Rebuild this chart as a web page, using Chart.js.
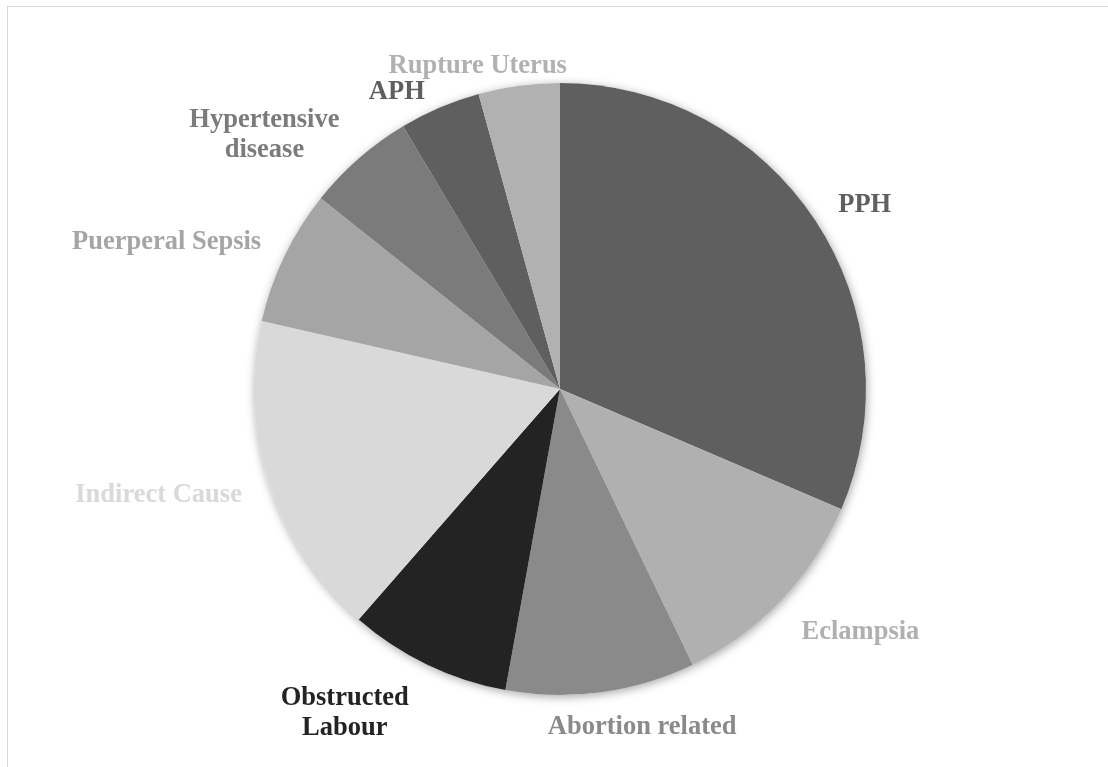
<!DOCTYPE html>
<html>
<head>
<meta charset="utf-8">
<script src="https://cdn.jsdelivr.net/npm/chart.js@4.4.0/dist/chart.umd.min.js"></script>
<style>
  html, body { margin: 0; padding: 0; background: #fff; overflow: hidden; }
  #frame { position: absolute; left: 7px; top: 6px; width: 1300px; height: 1000px;
           border-left: 1px solid #d9d9d9; border-top: 1px solid #d9d9d9; }
  #myChart { position: absolute; left: 0; top: 0; }
</style>
</head>
<body>
<div id="frame"></div>
<canvas id="myChart" width="1108" height="767"></canvas>
<script>
// causes of maternal death
var categories = ['PPH', 'Eclampsia', 'Abortion related', ['Obstructed', 'Labour'],
    'Indirect Cause', 'Puerperal Sepsis', ['Hypertensive', 'disease'], 'APH', 'Rupture Uterus'];
var deaths = [22, 8, 7, 6, 12, 5, 4, 3, 3];
var shades = ['#5f5f5f', '#b0b0b0', '#8a8a8a', '#232323', '#d9d9d9', '#a5a5a5', '#7b7b7b', '#5f5f5f', '#b1b1b1'];

// soft drop shadow under the whole pie
var pieShadow = {
    id: 'pieShadow',
    beforeDatasetsDraw: function(chart) {
        var arc = chart.getDatasetMeta(0).data[0];
        if (!arc) return;
        var ctx = chart.ctx;
        ctx.save();
        ctx.shadowColor = 'rgba(0,0,0,0.35)';
        ctx.shadowBlur = 10;
        ctx.shadowOffsetX = 1;
        ctx.shadowOffsetY = 2;
        ctx.beginPath();
        ctx.arc(arc.x, arc.y, arc.outerRadius, 0, Math.PI * 2);
        ctx.fillStyle = '#ffffff';
        ctx.fill();
        ctx.restore();
    }
};

// distance from (0,0) to the nearest point of a box centred at (x,y)
function boxDist(x, y, w, h) {
    var nx = Math.max(x - w / 2, Math.min(0, x + w / 2));
    var ny = Math.max(y - h / 2, Math.min(0, y + h / 2));
    return Math.sqrt(nx * nx + ny * ny);
}

// category names outside each slice, in the slice colour
var outsideLabels = {
    id: 'outsideLabels',
    afterDatasetsDraw: function(chart, args, opts) {
        var ctx = chart.ctx;
        var size = opts.size, lineH = opts.lineHeight, capH = size * 0.66;
        ctx.save();
        ctx.font = 'bold ' + size + 'px "Liberation Serif", "Times New Roman", serif';
        ctx.textAlign = 'center';
        ctx.textBaseline = 'alphabetic';
        chart.getDatasetMeta(0).data.forEach(function(arc, i) {
            var lines = [].concat(chart.data.labels[i]);
            var w = Math.max.apply(null, lines.map(function(l) { return ctx.measureText(l).width; }));
            var h = capH + (lines.length - 1) * lineH;
            var ang = (arc.startAngle + arc.endAngle) / 2 + opts.turn[i] * Math.PI / 180;
            var ux = Math.cos(ang), uy = Math.sin(ang);
            var want = arc.outerRadius + opts.gap[i];
            // push the label box out along its ray until it clears the pie by the gap
            var lo = 0, hi = want + w + h;
            for (var k = 0; k < 40; k++) {
                var t = (lo + hi) / 2;
                if (boxDist(ux * t, uy * t, w, h) < want) lo = t; else hi = t;
            }
            var cx = arc.x + ux * lo, cy = arc.y + uy * lo;
            ctx.fillStyle = shades[i];
            lines.forEach(function(l, n) {
                ctx.fillText(l, cx, cy - h / 2 + capH + n * lineH);
            });
        });
        ctx.restore();
    }
};

var ctx = document.getElementById("myChart");
var myChart = new Chart(ctx, {
    type: 'pie',
    data: {
        labels: categories,
        datasets: [{
            data: deaths,
            backgroundColor: shades,
            borderWidth: 0,
            hoverOffset: 0
        }]
    },
    options: {
        responsive: false,
        animation: false,
        events: [],
        devicePixelRatio: 1,
        layout: { padding: { top: 83, bottom: 72, left: 200, right: 188 } },
        plugins: {
            legend: { display: false },
            tooltip: { enabled: false },
            outsideLabels: {
                size: 26.5,
                lineHeight: 30,
                turn: [2, -5, -6, 8, 3.5, -5, -8, -5.5, -6.5],
                gap: [24, 29, 22, 29, 26, 24, 14, 14, 10]
            }
        }
    },
    plugins: [pieShadow, outsideLabels]
});
</script>
</body>
</html>
